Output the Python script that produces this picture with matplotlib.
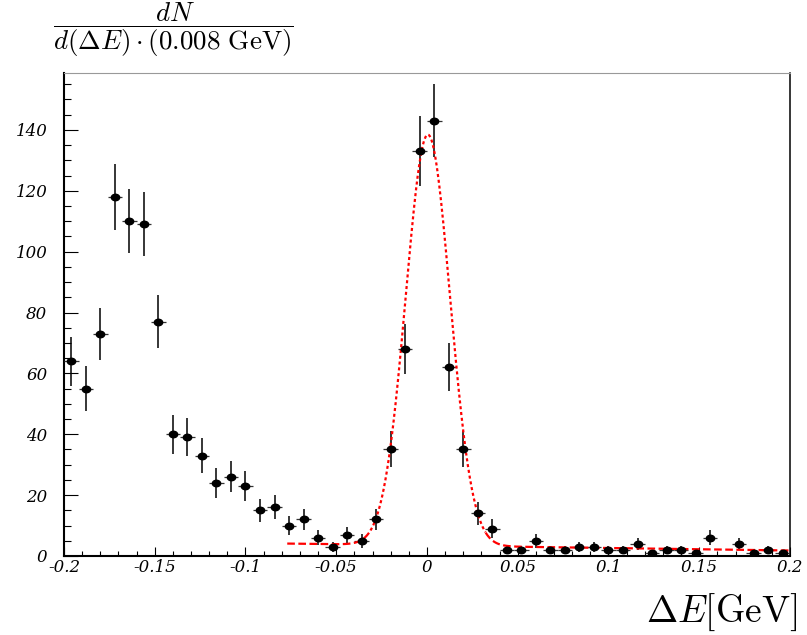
import numpy as np
import matplotlib
matplotlib.use("Agg")
import matplotlib.pyplot as plt
from matplotlib.path import Path

# ---- data ----
bin_width = 0.008
bin_centers = [-0.196, -0.188, -0.180, -0.172, -0.164, -0.156, -0.148, -0.140, -0.132, -0.124,
               -0.116, -0.108, -0.100, -0.092, -0.084, -0.076, -0.068, -0.060, -0.052, -0.044,
               -0.036, -0.028, -0.020, -0.012, -0.004, 0.004, 0.012, 0.020, 0.028, 0.036,
               0.044, 0.052, 0.060, 0.068, 0.076, 0.084, 0.092, 0.100, 0.108, 0.116,
               0.124, 0.132, 0.140, 0.148, 0.156, 0.164, 0.172, 0.180, 0.188, 0.196]
counts = [64, 55, 73, 118, 110, 109, 77, 40, 39, 33,
          24, 26, 23, 15, 16, 10, 12, 6, 3, 7,
          5, 12, 35, 68, 133, 143, 62, 35, 14, 9,
          2, 2, 5, 2, 2, 3, 3, 2, 2, 4,
          1, 2, 2, 1, 6, 0, 4, 1, 2, 1]

# fit: gaussian + linear background
fit_amp = 135.0
fit_mean = 0.0005
fit_sigma = 0.0122
fit_bg_const = 3.45
fit_bg_slope = -8.2
fit_range = (-0.077, 0.2)

x_ticks = [-0.2, -0.15, -0.1, -0.05, 0.0, 0.05, 0.1, 0.15, 0.2]
x_tick_labels = ["-0.2", "-0.15", "-0.1", "-0.05", "0", "0.05", "0.1", "0.15", "0.2"]
y_ticks = [0, 20, 40, 60, 80, 100, 120, 140]
y_tick_labels = ["0", "20", "40", "60", "80", "100", "120", "140"]

# ---- plot ----
plt.rcParams["mathtext.fontset"] = "cm"
plt.rcParams["lines.scale_dashes"] = False

W, H = 807, 635
fig = plt.figure(figsize=(W / 100, H / 100), dpi=100)
ax = fig.add_axes([64 / W, (H - 556) / H, (790 - 64) / W, (556 - 73) / H])

x = np.array(bin_centers)
y = np.array(counts, dtype=float)
m = y > 0
err = np.sqrt(y)

# fit curve
def fit_func(t):
    return fit_amp * np.exp(-0.5 * ((t - fit_mean) / fit_sigma) ** 2) + fit_bg_const + fit_bg_slope * t

xf = np.linspace(fit_range[0], fit_range[1], 2000)
core = np.abs(xf - fit_mean) <= 2.6 * fit_sigma
red = "#ff0000"
ax.plot(xf[core], fit_func(xf[core]), color=red, lw=1.6, linestyle=(0, (2.2, 2.0)), zorder=4)
left_tail = (xf - fit_mean) < -2.6 * fit_sigma
right_tail = (xf - fit_mean) > 2.6 * fit_sigma
for sel in (left_tail, right_tail):
    ax.plot(xf[sel], fit_func(xf[sel]), color=red, lw=1.6, linestyle=(0, (5.5, 2.5)), zorder=4)

# error bars
ax.hlines(y[m], x[m] - bin_width / 2, x[m] + bin_width / 2, color="#333333", lw=0.9, zorder=3)
ax.vlines(x[m], y[m] - err[m], y[m] + err[m], color="black", lw=1.1, zorder=3)

# elliptical markers
circ = Path.unit_circle()
ell = Path(circ.vertices * np.array([1.0, 0.78]), circ.codes)
ax.plot(x[m], y[m], linestyle="none", marker=ell, ms=6.0, color="black", zorder=5)

ax.set_xlim(-0.2, 0.2)
ax.set_ylim(0, 158.7)

tick_font = dict(family="DejaVu Serif", style="italic", size=12)
ax.set_xticks(x_ticks)
ax.set_xticklabels(x_tick_labels, **tick_font)
ax.set_yticks(y_ticks)
ax.set_yticklabels(y_tick_labels, **tick_font)
ax.set_xticks(np.arange(-0.2, 0.2001, 0.01), minor=True)
ax.set_yticks(np.arange(0, 158, 5), minor=True)

ax.tick_params(axis="y", which="major", direction="in", length=10, width=0.8, pad=12,
               left=True, right=False)
ax.tick_params(axis="y", which="minor", direction="in", length=5, width=0.8,
               left=True, right=False)
ax.tick_params(axis="x", which="major", direction="in", length=6.5, width=0.8, pad=2,
               bottom=True, top=False)
ax.tick_params(axis="x", which="minor", direction="in", length=3.3, width=0.8,
               bottom=True, top=False)

for s in ("left", "bottom"):
    ax.spines[s].set_linewidth(1.5)
    ax.spines[s].set_color("black")
ax.spines["right"].set_linewidth(1.1)
ax.spines["right"].set_color("black")
ax.spines["top"].set_linewidth(0.8)
ax.spines["top"].set_color("#999999")

fig.text(173 / W, 1 - 0.5 / H, r"$\dfrac{dN}{d(\Delta E)\cdot(0.008\ \mathrm{GeV})}$",
         ha="center", va="top", fontsize=19.5)
fig.text(797 / W, 2 / H, r"$\Delta E[\mathrm{GeV}]$", ha="right", va="bottom", fontsize=27)

fig.savefig("out.png", dpi=100)
